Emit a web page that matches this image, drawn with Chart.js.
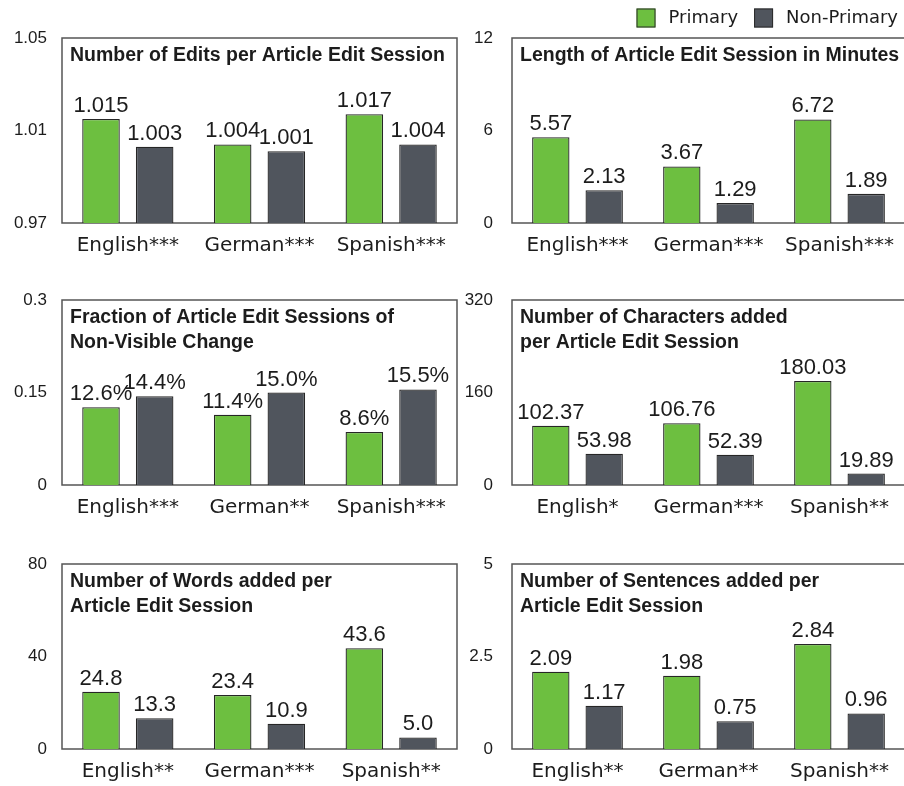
<!DOCTYPE html>
<html><head><meta charset="utf-8">
<script src="https://cdn.jsdelivr.net/npm/chart.js@4.4.1/dist/chart.umd.min.js"></script>
<style>
html,body{margin:0;padding:0;background:#fff;overflow:hidden;width:904px;height:786px;position:relative}
canvas{position:absolute;display:block}
</style></head>
<body>
<canvas id="c1" width="460" height="270" style="left:0px;top:0px"></canvas>
<canvas id="c2" width="446" height="270" style="left:460px;top:0px"></canvas>
<canvas id="c3" width="460" height="270" style="left:0px;top:262px"></canvas>
<canvas id="c4" width="446" height="270" style="left:460px;top:262px"></canvas>
<canvas id="c5" width="460" height="270" style="left:0px;top:526px"></canvas>
<canvas id="c6" width="446" height="270" style="left:460px;top:526px"></canvas>
<script>
// ---------- data ----------
const seriesNames = ['Primary', 'Non-Primary'];

const editsTitle = ['Number of Edits per Article Edit Session'];
const editsLabels = ['English***', 'German***', 'Spanish***'];
const editsPrimary = [1.015, 1.004, 1.017];
const editsNonPrimary = [1.003, 1.001, 1.004];
const editsTicks = [0.97, 1.01, 1.05];

const lengthTitle = ['Length of Article Edit Session in Minutes'];
const lengthLabels = ['English***', 'German***', 'Spanish***'];
const lengthPrimary = [5.57, 3.67, 6.72];
const lengthNonPrimary = [2.13, 1.29, 1.89];
const lengthTicks = [0, 6, 12];

const fractionTitle = ['Fraction of Article Edit Sessions of', 'Non-Visible Change'];
const fractionLabels = ['English***', 'German**', 'Spanish***'];
const fractionPrimary = [0.126, 0.114, 0.086];
const fractionNonPrimary = [0.144, 0.150, 0.155];
const fractionTicks = [0, 0.15, 0.3];

const charsTitle = ['Number of Characters added', 'per Article Edit Session'];
const charsLabels = ['English*', 'German***', 'Spanish**'];
const charsPrimary = [102.37, 106.76, 180.03];
const charsNonPrimary = [53.98, 52.39, 19.89];
const charsTicks = [0, 160, 320];

const wordsTitle = ['Number of Words added per', 'Article Edit Session'];
const wordsLabels = ['English**', 'German***', 'Spanish**'];
const wordsPrimary = [24.8, 23.4, 43.6];
const wordsNonPrimary = [13.3, 10.9, 5.0];
const wordsTicks = [0, 40, 80];

const sentTitle = ['Number of Sentences added per', 'Article Edit Session'];
const sentLabels = ['English**', 'German**', 'Spanish**'];
const sentPrimary = [2.09, 1.98, 2.84];
const sentNonPrimary = [1.17, 0.75, 0.96];
const sentTicks = [0, 2.5, 5];

// ---------- styles ----------
const GREEN = '#6dbf40';
const GRAY = '#50555d';
const TEXT = '#1c1c1c';

function formatValue(kind, v) {
  if (kind === 'pct') return (v * 100).toFixed(1) + '%';
  return v.toFixed(Number(kind));
}

const boxPlugin = {
  id: 'boxPlugin',
  beforeDatasetsDraw(chart) {
    const a = chart.chartArea, ctx = chart.ctx;
    ctx.save();
    ctx.strokeStyle = '#555555';
    ctx.lineWidth = 1.5;
    ctx.strokeRect(a.left, a.top, a.right - a.left, a.bottom - a.top);
    ctx.restore();
  },
  afterDraw(chart) {
    const o = chart.options.plugins.boxPlugin;
    const a = chart.chartArea, ctx = chart.ctx;
    ctx.save();
    // title
    ctx.fillStyle = TEXT;
    ctx.font = 'bold 19.5px "Liberation Sans", Arial, sans-serif';
    ctx.textAlign = 'left';
    ctx.textBaseline = 'middle';
    o.title.forEach((t, i) => ctx.fillText(t, a.left + 8, a.top + 18 + i * 25));
    // value labels
    ctx.font = '22px "Liberation Sans", Arial, sans-serif';
    ctx.textAlign = 'center';
    ctx.textBaseline = 'alphabetic';
    chart.data.datasets.forEach((ds, di) => {
      const meta = chart.getDatasetMeta(di);
      meta.data.forEach((el, i) => {
        ctx.fillText(formatValue(o.fmt, ds.data[i]), el.x, el.y - 7);
      });
    });
    // legend
    if (o.legend) {
      ctx.font = '18px "DejaVu Sans", sans-serif';
      ctx.textAlign = 'left';
      ctx.textBaseline = 'middle';
      const endX = 898 - 460;
      const items = chart.data.datasets.map(ds => ({ label: ds.label, color: ds.backgroundColor, w: ctx.measureText(ds.label).width }));
      let total = 0;
      items.forEach((it, i) => { total += 19 + 13 + it.w + (i < items.length - 1 ? 16 : 0); });
      let x = endX - total;
      items.forEach(it => {
        ctx.fillStyle = it.color;
        ctx.fillRect(x, 8.5, 19, 19);
        ctx.strokeStyle = '#2b2b2b';
        ctx.lineWidth = 1;
        ctx.strokeRect(x + 0.5, 9, 18, 18);
        ctx.fillStyle = TEXT;
        ctx.fillText(it.label, x + 19 + 13, 18.5);
        x += 19 + 13 + it.w + 16;
      });
    }
    ctx.restore();
  }
};

function makeChart(id, title, labels, primary, nonPrimary, ticks, fmt, leftCol, legend) {
  const yWidth = leftCol ? 62 : 52;
  const padRight = leftCol ? 3 : 1;
  const tickPad = leftCol ? 15 : 19;
  return new Chart(document.getElementById(id), {
    type: 'bar',
    data: {
      labels: labels,
      datasets: [
        { label: seriesNames[0], data: primary, backgroundColor: GREEN, borderColor: '#262626', borderWidth: 1.3, categoryPercentage: 0.815, barPercentage: 0.7 },
        { label: seriesNames[1], data: nonPrimary, backgroundColor: GRAY, borderColor: '#262626', borderWidth: 1.3, categoryPercentage: 0.815, barPercentage: 0.7 }
      ]
    },
    plugins: [boxPlugin],
    options: {
      responsive: false,
      animation: false,
      devicePixelRatio: 1,
      layout: { padding: { top: 38, right: padRight, left: 0, bottom: 0 } },
      plugins: {
        legend: { display: false },
        tooltip: { enabled: false },
        boxPlugin: { title: title, fmt: fmt, legend: legend }
      },
      scales: {
        x: {
          grid: { display: false, drawTicks: false },
          border: { display: false },
          ticks: { font: { family: '"DejaVu Sans", sans-serif', size: 20 }, color: TEXT, padding: 11, maxRotation: 0, autoSkip: false },
          afterFit: s => { s.height = 47; }
        },
        y: {
          min: ticks[0],
          max: ticks[ticks.length - 1],
          grid: { display: false, drawTicks: false },
          border: { display: false },
          afterBuildTicks: s => { s.ticks = ticks.map(v => ({ value: v })); },
          ticks: { font: { family: '"Liberation Sans", Arial, sans-serif', size: 17 }, color: TEXT, padding: tickPad, callback: v => String(v) },
          afterFit: s => { s.width = yWidth; }
        }
      }
    }
  });
}

makeChart('c1', editsTitle, editsLabels, editsPrimary, editsNonPrimary, editsTicks, '3', true, false);
makeChart('c2', lengthTitle, lengthLabels, lengthPrimary, lengthNonPrimary, lengthTicks, '2', false, true);
makeChart('c3', fractionTitle, fractionLabels, fractionPrimary, fractionNonPrimary, fractionTicks, 'pct', true, false);
makeChart('c4', charsTitle, charsLabels, charsPrimary, charsNonPrimary, charsTicks, '2', false, false);
makeChart('c5', wordsTitle, wordsLabels, wordsPrimary, wordsNonPrimary, wordsTicks, '1', true, false);
makeChart('c6', sentTitle, sentLabels, sentPrimary, sentNonPrimary, sentTicks, '2', false, false);
</script>
</body></html>
